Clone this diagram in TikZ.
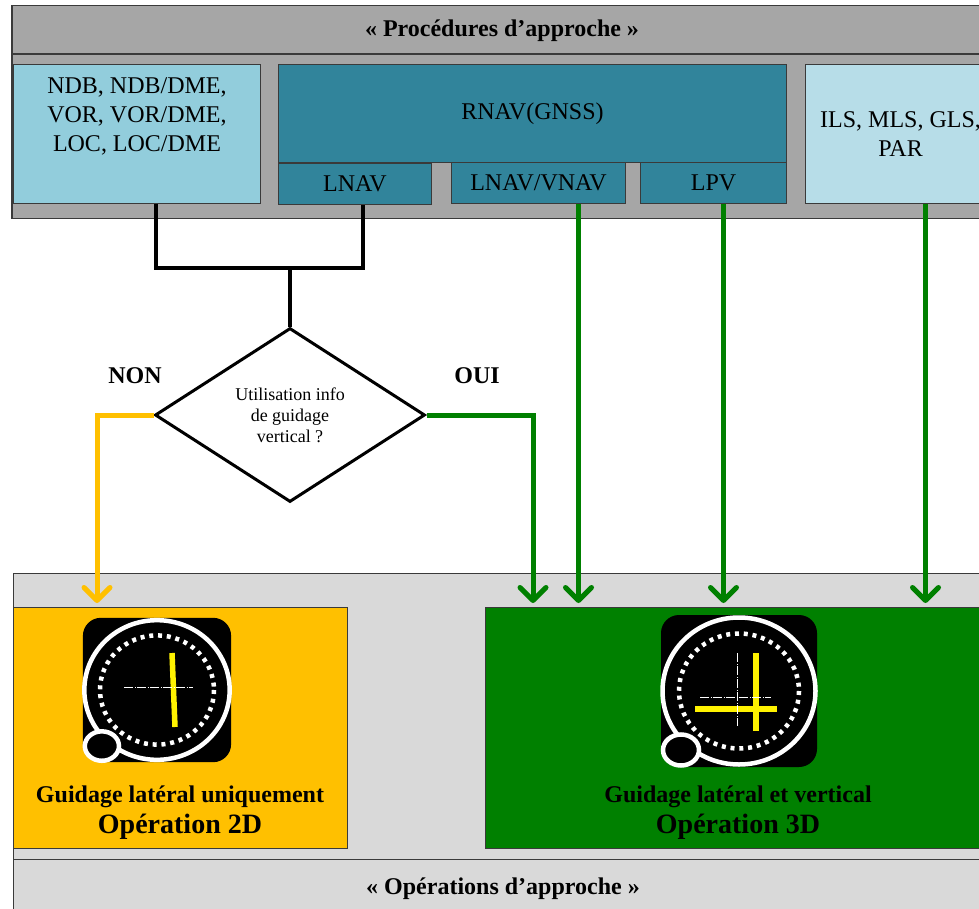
\documentclass[tikz,border=0pt]{standalone}
\usepackage{fontspec}
\setmainfont{Liberation Serif}
\usetikzlibrary{shapes,shapes.geometric,arrows,positioning}
\usetikzlibrary{arrows.meta}
\usetikzlibrary{calc}

\definecolor{procgray}{HTML}{A6A6A6}
\definecolor{opgray}{HTML}{D9D9D9}
\definecolor{boxline}{HTML}{3A3A3A}
\definecolor{ndbblue}{HTML}{92CDDC}
\definecolor{ilsblue}{HTML}{B7DDE8}
\definecolor{rnavblue}{HTML}{31849B}
\definecolor{opyellow}{HTML}{FFC000}
\definecolor{opgreen}{HTML}{008000}

\begin{document}
\begin{tikzpicture}[x=1pt, y=-1pt, inner sep=0pt,
    box/.style={draw=boxline, line width=1pt, anchor=north west},
    big/.style={font=\fontsize{24}{29}\selectfont},
    bigbold/.style={font=\fontsize{24}{29}\selectfont\bfseries},
    wire/.style={line width=4.5pt},
    go/.style={opgreen, line width=5pt, shorten >=4pt, -{Straight Barb[length=13pt,width=26pt,round]}},
    nogo/.style={opyellow, line width=5pt, shorten >=4pt, -{Straight Barb[length=13pt,width=26pt,round]}},
    crosshair/.style={white, line width=0.8pt, dash pattern=on 9pt off 1.5pt on 1pt off 1.5pt},
    pics/gauge/.style={code={
        \fill[black, rounded corners=18pt] (-78,-76) rectangle (78,76);
        \draw[white, line width=4.5pt] (0,0) ellipse [x radius=76.5, y radius=73.5];
        \draw[white, line width=4.5pt, dash pattern=on 4pt off 4.8pt] (0,0) ellipse [x radius=60, y radius=57.5];
        \draw[white, line width=4.5pt, fill=black] (-58,59) ellipse [x radius=18, y radius=15.5];
    }}]
  \useasboundingbox (0,0) rectangle (979,909);
  \clip (0,0) rectangle (979,909);
  \fill[white] (0,0) rectangle (979,909);

  % procedures
  \node[box, fill=procgray, line width=1.5pt, minimum width=989, minimum height=213] (procs) at (11,5) {};
  \draw[boxline, line width=1.5pt] (11,54) -- (1000,54);
  \node[bigbold] (proctitle) at (502,31) {« Procédures d’approche »};

  \node[box, fill=ndbblue, minimum width=247, minimum height=139] (ndb) at (13,64) {};
  \node[big, align=center, anchor=north] (ndbtext) at ([yshift=-13pt]ndb.north) {NDB, NDB/DME,\\ VOR, VOR/DME,\\ LOC, LOC/DME};
  \node[box, fill=rnavblue, minimum width=508, minimum height=98, big] (rnav) at (278,64) {RNAV(GNSS)};
  \node[box, fill=rnavblue, minimum width=153, minimum height=41, big] (lnav) at (rnav.south west) {LNAV};
  \node[box, fill=rnavblue, minimum width=174, minimum height=41, big] (lnavvnav) at (451,162) {LNAV/VNAV};
  \node[box, fill=rnavblue, minimum width=146, minimum height=41, big] (lpv) at (640,162) {LPV};
  \node[box, fill=ilsblue, minimum width=190, minimum height=139, big, align=center] (ils) at (805,64) {ILS, MLS, GLS,\\ PAR};

  % operations
  \node[box, fill=opgray, minimum width=987, minimum height=290] (ops) at (13,573) {};
  \node[box, fill=opgray, minimum width=987, minimum height=60] (opsband) at (13,859) {};
  \node[bigbold] (opstitle) at (503,889) {« Opérations d’approche »};
  \node[box, fill=opyellow, minimum width=334, minimum height=241] (op2d) at (13,607) {};
  \node[box, fill=opgreen, minimum width=506, minimum height=241] (op3d) at (485,607) {};

  \pic[scale=0.95] at (157,690) {gauge};
  \draw[yellow, line width=5.5pt] (172,653) -- (175,727);
  \draw[crosshair] (124,687) -- (193,687);
  \pic at (739,691) {gauge};
  \draw[yellow, line width=5.5pt] (756,653) -- (756,731);
  \draw[yellow, line width=5.5pt] (695,709) -- (777,709);
  \draw[crosshair] (737,653) -- (737,726);
  \draw[crosshair] (700,697) -- (771,697);

  \node[bigbold] (op2dtext) at (180,797) {Guidage latéral uniquement};
  \node[font=\fontsize{28}{32}\selectfont\bfseries] (op2dtitle) at (180,827) {Opération 2D};
  \node[bigbold] (op3dtext) at (738,797) {Guidage latéral et vertical};
  \node[font=\fontsize{28}{32}\selectfont\bfseries] (op3dtitle) at (738,827) {Opération 3D};

  % decision
  \node[draw, diamond, line width=3pt, minimum width=270, minimum height=174, align=center,
        font=\fontsize{18}{21}\selectfont] (question) at (290,415) {Utilisation info\\ de guidage\\ vertical ?};
  \node[bigbold] (non) at (135,376) {NON};
  \node[bigbold] (oui) at (477,376) {OUI};

  \coordinate (merge) at (290,268);
  \draw[wire] ([xshift=19pt]ndb.south) |- (merge) -| ([xshift=8pt]lnav.south);
  \draw[wire] (merge) -- (question.north);

  \draw[nogo] (question.west) -| ([xshift=84pt]op2d.north west);
  \draw[go] (question.east) -| ([xshift=48pt]op3d.north west);

  \coordinate (vnavout) at ([xshift=40pt]lnavvnav.south);
  \coordinate (lpvout) at ([xshift=10pt]lpv.south);
  \coordinate (ilsout) at ([xshift=25pt]ils.south);
  \draw[go] (vnavout) -- (vnavout |- op3d.north);
  \draw[go] (lpvout) -- (lpvout |- op3d.north);
  \draw[go] (ilsout) -- (ilsout |- op3d.north);
\end{tikzpicture}
\end{document}
